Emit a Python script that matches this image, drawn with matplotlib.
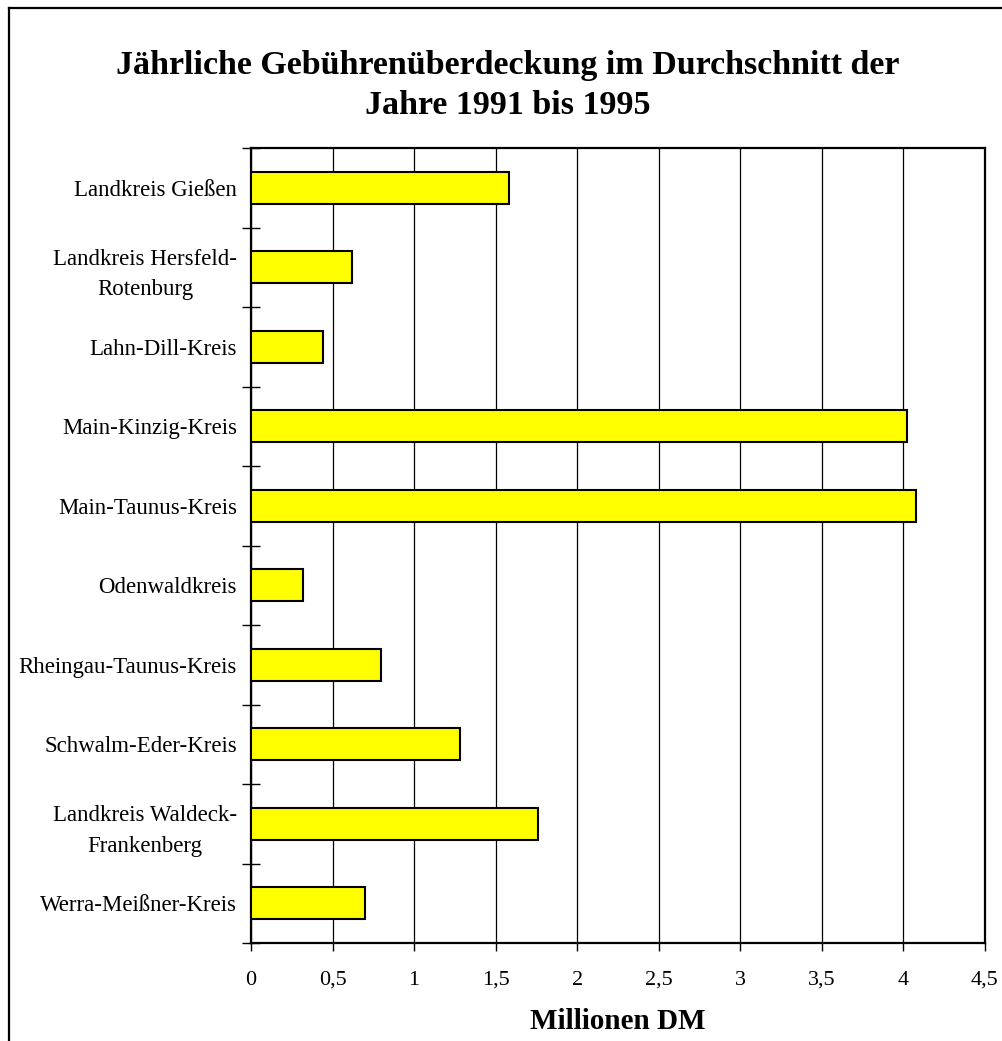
import matplotlib.pyplot as plt
from matplotlib.lines import Line2D
from matplotlib.ticker import FixedLocator, FuncFormatter

# Gebührenüberdeckung je Landkreis (Mio. DM)
kreise = [
    "Landkreis Gießen",
    "Landkreis Hersfeld-\nRotenburg",
    "Lahn-Dill-Kreis",
    "Main-Kinzig-Kreis",
    "Main-Taunus-Kreis",
    "Odenwaldkreis",
    "Rheingau-Taunus-Kreis",
    "Schwalm-Eder-Kreis",
    "Landkreis Waldeck-\nFrankenberg",
    "Werra-Meißner-Kreis",
]
werte = [1.58, 0.62, 0.44, 4.02, 4.08, 0.32, 0.80, 1.28, 1.76, 0.70]
xticks = [0, 0.5, 1, 1.5, 2, 2.5, 3, 3.5, 4, 4.5]

plt.rcParams['font.family'] = ['Liberation Serif', 'DejaVu Serif']

fig = plt.figure(figsize=(10.02, 10.41), dpi=100)
ax = fig.add_axes([0.2505, 0.0941, 0.7325, 0.7637])

pos = list(range(len(kreise)))
ax.barh(pos, werte, height=0.4, color='#FFFF00', edgecolor='black',
        linewidth=1.5, zorder=3)

ax.set_xlim(0, 4.5)
ax.set_ylim(len(kreise) - 0.5, -0.5)
ax.set_xticks(xticks)
ax.xaxis.set_major_formatter(FuncFormatter(lambda v, p: f"{v:g}".replace('.', ',')))
ax.grid(axis='x', color='black', linewidth=0.9, zorder=0)

ax.set_yticks(pos)
ax.set_yticklabels(kreise, multialignment='center', linespacing=1.6)
ax.yaxis.set_minor_locator(FixedLocator([i - 0.5 for i in range(len(kreise) + 1)]))
ax.tick_params(axis='y', which='major', length=0, pad=10, labelsize=16.5)
ax.tick_params(axis='y', which='minor', direction='inout', length=13, width=1)
ax.tick_params(axis='x', direction='out', length=6, width=1, pad=14, labelsize=16)

for s in ax.spines.values():
    s.set_linewidth(1.6)

ax.set_xlabel("Millionen DM", fontsize=21, fontweight='bold', labelpad=13)

fig.text(0.507, 0.918, "Jährliche Gebührenüberdeckung im Durchschnitt der\nJahre 1991 bis 1995",
         ha='center', va='center', fontsize=24.5, fontweight='bold', linespacing=1.4)

# Rahmen oben und links
fig.add_artist(Line2D([0.009, 0.009], [0, 0.9925], color='black', linewidth=1.6,
                      transform=fig.transFigure))
fig.add_artist(Line2D([0.009, 1], [0.9925, 0.9925], color='black', linewidth=1.6,
                      transform=fig.transFigure))

fig.savefig("out.png", dpi=100)
